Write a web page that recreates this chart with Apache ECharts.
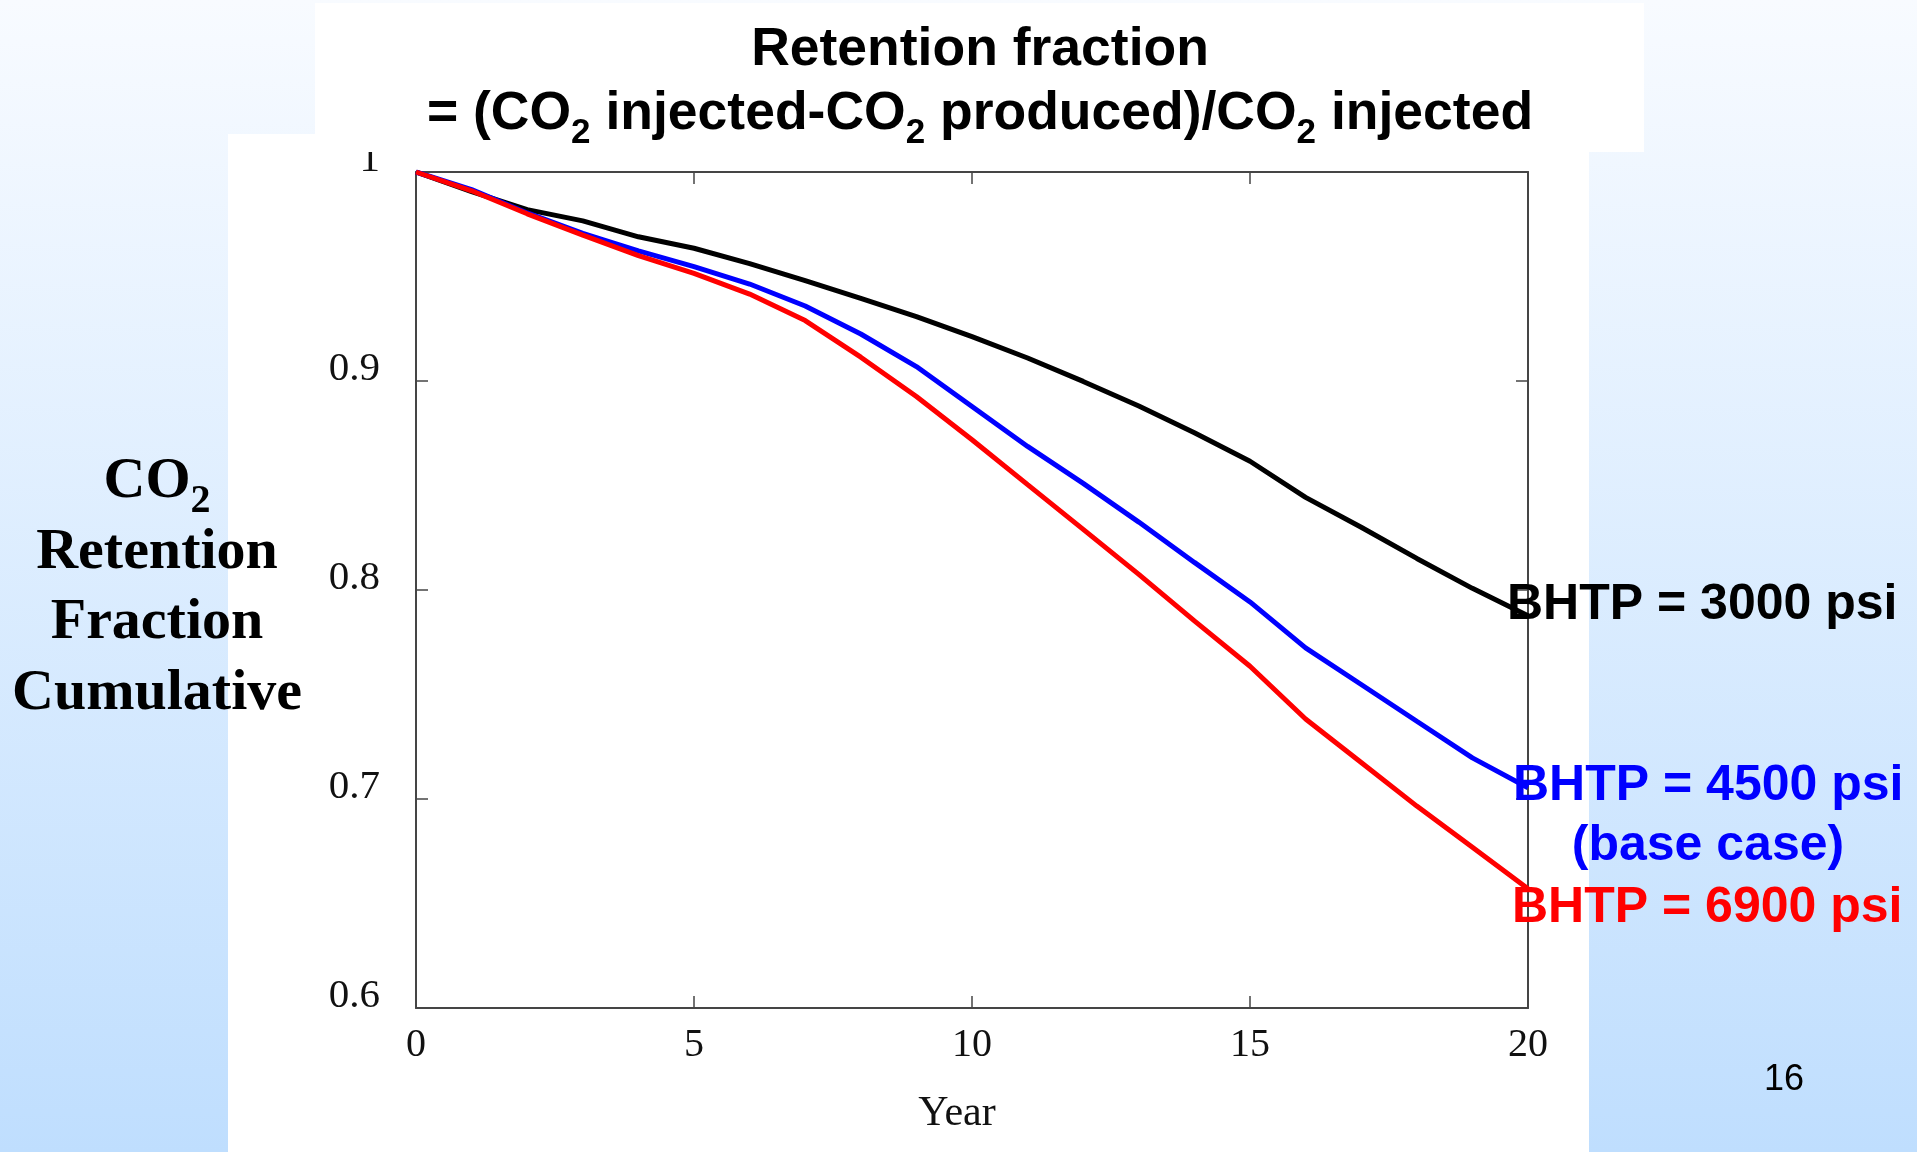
<!DOCTYPE html>
<html>
<head>
<meta charset="utf-8">
<title>CO2 Retention Fraction</title>
<script src="https://cdn.jsdelivr.net/npm/echarts@6/dist/echarts.min.js"></script>
<style>
  html, body { margin: 0; padding: 0; width: 1917px; height: 1152px; overflow: hidden; }
  #chart { width: 1917px; height: 1152px; }
</style>
</head>
<body>
<div id="chart"></div>
<script>
// Simulation years
const years = [0, 1, 2, 3, 4, 5, 6, 7, 8, 9, 10, 11, 12, 13, 14, 15, 16, 17, 18, 19, 20];

// Cumulative CO2 retention fraction for each bottom-hole pressure case
const bhtp3000 = [1.0, 0.9906, 0.982, 0.9766, 0.969, 0.9635, 0.9562, 0.948, 0.9395, 0.9308, 0.9212,
                  0.911, 0.8998, 0.888, 0.8752, 0.8616, 0.8443, 0.830, 0.8151, 0.8008, 0.7877];
const bhtp4500 = [1.0, 0.9916, 0.9804, 0.9706, 0.9623, 0.9547, 0.9464, 0.9359, 0.9225, 0.9069, 0.8878,
                  0.8687, 0.851, 0.8325, 0.8132, 0.7943, 0.7723, 0.7548, 0.7372, 0.7197, 0.7054];
const bhtp6900 = [1.0, 0.991, 0.980, 0.9698, 0.960, 0.9515, 0.9416, 0.9289, 0.9114, 0.8926, 0.8719,
                  0.8504, 0.829, 0.8075, 0.7852, 0.7635, 0.7383, 0.7175, 0.6966, 0.6769, 0.657];

// Axis ticks
const xTicks = [0, 5, 10, 15, 20];
const yTicks = [0.6, 0.7, 0.8, 0.9, 1];
const yTickLabels = ['0.6', '0.7', '0.8', '0.9', '1'];

// Series names / annotation text
const caseNames = ['BHTP = 3000 psi', 'BHTP = 4500 psi', 'BHTP = 6900 psi'];
const caseColors = ['#000000', '#0000ff', '#ff0000'];

const SANS = "'Liberation Sans', Arial, Helvetica, sans-serif";
const SERIF = "'Liberation Serif', 'Times New Roman', Times, serif";
const AXIS_COLOR = '#454545';

const pairs = vals => years.map((y, i) => [y, vals[i]]);

const chart = echarts.init(document.getElementById('chart'), null, { renderer: 'canvas' });

const baseAxis = {
  type: 'value',
  splitLine: { show: false },
  axisLine: { show: true, onZero: false, lineStyle: { color: AXIS_COLOR, width: 2 } },
  axisTick: { show: true, inside: true, length: 12, lineStyle: { color: AXIS_COLOR, width: 1.5 } }
};

const option = {
  animation: false,
  graphic: [
    // slide background
    {
      type: 'rect', z: -20, silent: true,
      shape: { x: 0, y: 0, width: 1917, height: 1152 },
      style: {
        fill: new echarts.graphic.LinearGradient(0, 0, 0, 1, [
          { offset: 0, color: '#f8fbff' },
          { offset: 1, color: '#bfdefe' }
        ])
      }
    },
    // white panel behind the plot
    {
      type: 'rect', z: -19, silent: true,
      shape: { x: 228, y: 134, width: 1361, height: 1018 },
      style: { fill: '#ffffff' }
    },
    // white panel behind the title
    {
      type: 'rect', z: 50, silent: true,
      shape: { x: 315, y: 3, width: 1329, height: 149 },
      style: { fill: '#ffffff' }
    },
    {
      type: 'text', z: 51, x: 980, y: 50,
      style: {
        text: 'Retention fraction',
        font: 'bold 53.5px ' + SANS, fill: '#000',
        align: 'center', verticalAlign: 'middle'
      }
    },
    {
      type: 'text', z: 51, x: 980, y: 114,
      style: {
        text: '= (CO{s|2} injected-CO{s|2} produced)/CO{s|2} injected',
        font: 'bold 53.5px ' + SANS, fill: '#000',
        align: 'center', verticalAlign: 'middle', lineHeight: 66,
        rich: {
          s: { fontFamily: SANS, fontWeight: 'bold', fontSize: 35, lineHeight: 26, padding: [38, 0, 0, 0], fill: '#000', color: '#000' }
        }
      }
    },
    // y-axis title
    {
      type: 'text', z: 30, x: 157, y: 588,
      style: {
        text: 'CO{s|2}\nRetention\nFraction\nCumulative',
        font: 'bold 58px ' + SERIF, fill: '#000',
        align: 'center', verticalAlign: 'middle', lineHeight: 70.5,
        rich: {
          s: { fontFamily: SERIF, fontWeight: 'bold', fontSize: 40, lineHeight: 28, padding: [38, 0, 0, 0], fill: '#000', color: '#000' }
        }
      }
    },
    // case annotations at the line ends
    {
      type: 'text', z: 30, x: 1507, y: 605,
      style: { text: caseNames[0], font: 'bold 50px ' + SANS, fill: caseColors[0], align: 'left', verticalAlign: 'middle' }
    },
    {
      type: 'text', z: 30, x: 1513, y: 786,
      style: { text: caseNames[1], font: 'bold 50px ' + SANS, fill: caseColors[1], align: 'left', verticalAlign: 'middle' }
    },
    {
      type: 'text', z: 30, x: 1708, y: 846,
      style: { text: '(base case)', font: 'bold 50px ' + SANS, fill: caseColors[1], align: 'center', verticalAlign: 'middle' }
    },
    {
      type: 'text', z: 30, x: 1512, y: 908,
      style: { text: caseNames[2], font: 'bold 50px ' + SANS, fill: caseColors[2], align: 'left', verticalAlign: 'middle' }
    },
    // slide number
    {
      type: 'text', z: 30, x: 1784, y: 1080,
      style: { text: '16', font: '36px ' + SANS, fill: '#000', align: 'center', verticalAlign: 'middle' }
    }
  ],
  grid: { left: 416, top: 172, width: 1112, height: 836, containLabel: false },
  xAxis: [
    Object.assign({}, baseAxis, {
      position: 'bottom',
      min: xTicks[0], max: xTicks[xTicks.length - 1], interval: xTicks[1] - xTicks[0],
      name: 'Year', nameLocation: 'middle', nameGap: 85,
      nameTextStyle: { fontFamily: SERIF, fontSize: 42, color: '#111', padding: [0, 30, 0, 0] },
      axisLabel: { fontFamily: SERIF, fontSize: 40, color: '#111', margin: 17 }
    }),
    Object.assign({}, baseAxis, {
      position: 'top',
      min: xTicks[0], max: xTicks[xTicks.length - 1], interval: xTicks[1] - xTicks[0],
      axisLabel: { show: false }
    })
  ],
  yAxis: [
    Object.assign({}, baseAxis, {
      position: 'left',
      min: yTicks[0], max: yTicks[yTicks.length - 1], interval: 0.1,
      axisLabel: {
        fontFamily: SERIF, fontSize: 41, color: '#111', margin: 36,
        verticalAlign: 'bottom', lineHeight: 24,
        formatter: v => {
          const i = yTicks.findIndex(t => Math.abs(t - v) < 1e-6);
          return i >= 0 ? yTickLabels[i] : '';
        }
      }
    }),
    Object.assign({}, baseAxis, {
      position: 'right',
      min: yTicks[0], max: yTicks[yTicks.length - 1], interval: 0.1,
      axisLabel: { show: false }
    })
  ],
  series: [
    { name: caseNames[0], type: 'line', data: pairs(bhtp3000), symbol: 'none', z: 3,
      lineStyle: { color: caseColors[0], width: 5 }, itemStyle: { color: caseColors[0] } },
    { name: caseNames[1], type: 'line', data: pairs(bhtp4500), symbol: 'none', z: 4,
      lineStyle: { color: caseColors[1], width: 5 }, itemStyle: { color: caseColors[1] } },
    { name: caseNames[2], type: 'line', data: pairs(bhtp6900), symbol: 'none', z: 5,
      lineStyle: { color: caseColors[2], width: 5 }, itemStyle: { color: caseColors[2] } }
  ]
};

chart.setOption(option);
</script>
</body>
</html>
